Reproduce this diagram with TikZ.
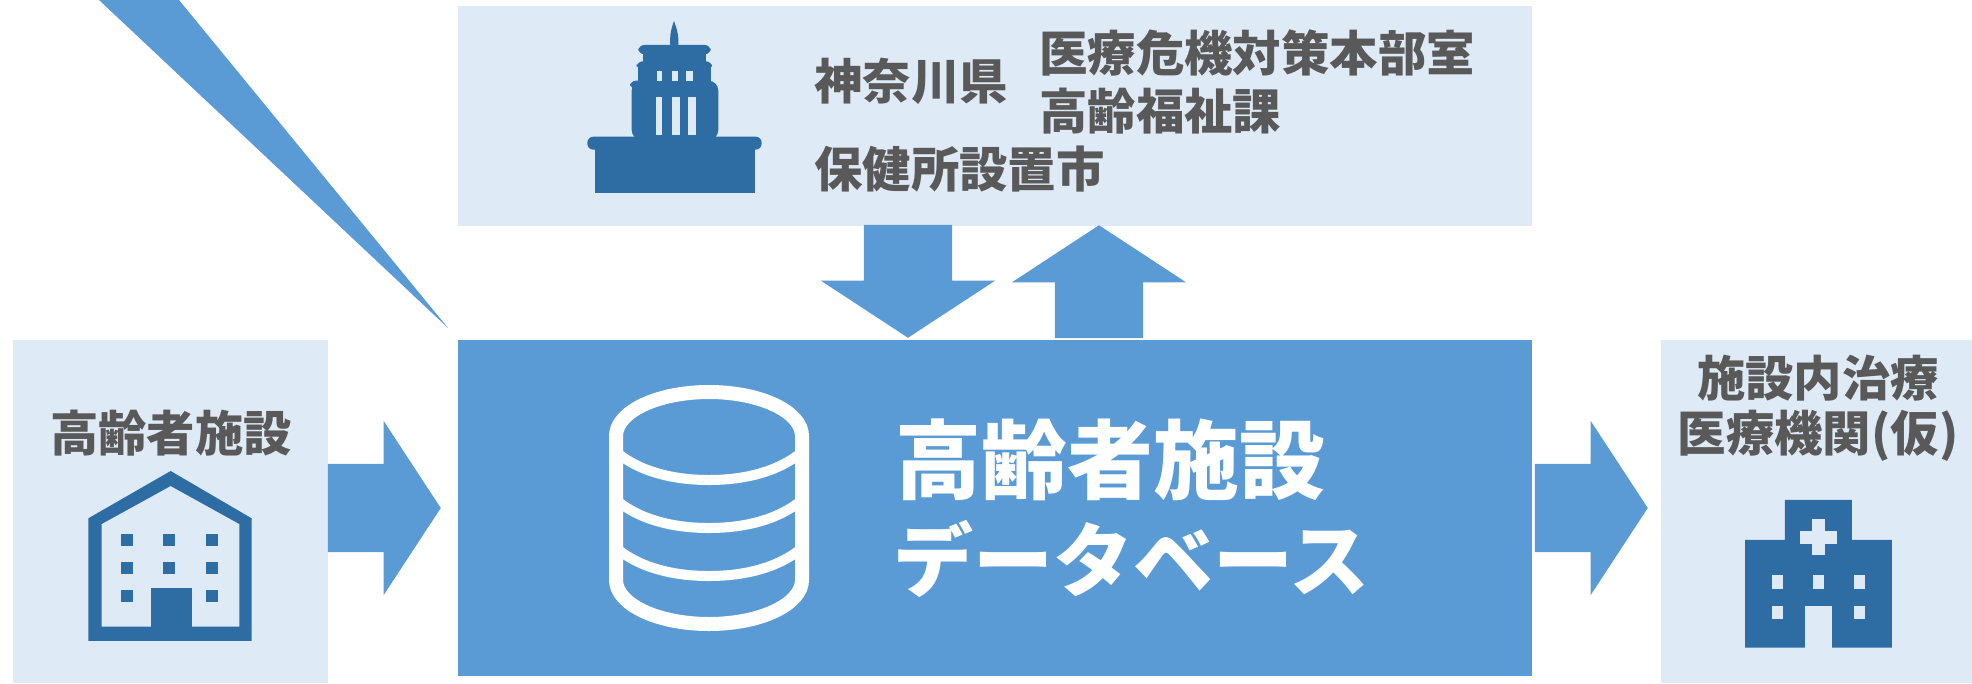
\documentclass[tikz,border=0pt]{standalone}
\usepackage{fontspec}
\setsansfont{Noto Sans CJK JP}
\usetikzlibrary{shapes.arrows}
\definecolor{paleblue}{HTML}{DEEAF6}
\definecolor{flowblue}{HTML}{5B9BD5}
\definecolor{iconblue}{HTML}{2E6DA4}
\definecolor{labelgray}{HTML}{595959}
\begin{document}
\begin{tikzpicture}[
        x=1pt, y=-1pt,
        font=\sffamily\bfseries,
        panel/.style 2 args = {
            rectangle, inner sep=0pt, outer sep=0pt,
            minimum width=#1 pt, minimum height=#2 pt
        },
        label/.style = {
            text=labelgray, inner sep=0pt,
            font=\sffamily\bfseries\fontsize{48.4}{50}\selectfont
        },
        title/.style = {
            text=white, inner sep=0pt, anchor=west,
            font=\sffamily\bfseries\fontsize{#1}{#1}\selectfont
        },
        flow/.style = {
            single arrow, fill=flowblue, inner xsep=0pt, inner ysep=44pt, anchor=tip,
            minimum width=174pt, minimum height=113pt,
            single arrow head extend=43pt,
            single arrow tip angle=113.5,
            single arrow head indent=0pt
        }
    ]
        \useasboundingbox (0,0) rectangle (1972,683);

        \node[panel={1074}{220}, fill=paleblue] (office) at (995,116){};
        \node[panel={1074}{336}, fill=flowblue] (database) at (995,508){};
        \node[panel={315}{343}, fill=paleblue] (facility) at (170.5,511.5){};
        \node[panel={311}{343}, fill=paleblue] (clinic) at (1816.5,511.5){};

        \fill[flowblue] (99,0) -- (179,0) -- (448,328) -- cycle;

        \node[flow] (feedin) at (441,508){};
        \node[flow] (feedout) at (1648,508){};
        \node[flow, rotate=-90] (report) at (908,338){};
        \node[flow, rotate=90] (notify) at (1099,225){};

        \node[label, anchor=west] (pref) at (814,81){神奈川県};
        \node[label, anchor=west] (crisis) at (1039,53){医療危機対策本部室};
        \node[label, anchor=west] (welfare) at (1039,111){高齢福祉課};
        \node[label, anchor=west] (city) at (814,169){保健所設置市};
        \node[label] (facilityname) at (171,433){高齢者施設};
        \node[label] (clinicline1) at (1818,378){施設内治療};
        \node[label] (clinicline2) at (1818,436){医療機関(仮)};
        \node[title=86] (dbline1) at (895,460){高齢者施設};
        \node[title=80] (dbline2) at (893,559){データベース};

        \begin{scope}[shift={(560,0)}, x=0.3333pt, y=-0.3333pt]
            \fill[iconblue, rounded corners=6pt] (82,410) rectangle (605,449);
            \fill[iconblue] (105,440) rectangle (585,578);
            \fill[iconblue, rounded corners=10pt] (215,420) -- (215,242) -- (475,242) -- (475,420) -- cycle;
            \fill[iconblue, rounded corners=6pt] (210,242) rectangle (300,267);
            \fill[iconblue] (250,150) rectangle (437,250);
            \fill[iconblue] (235,200) rectangle (452,250);
            \fill[iconblue, rounded corners=6pt] (230,184) rectangle (456,210);
            \fill[iconblue, rounded corners=6pt] (235,135) rectangle (452,163);
            \fill[iconblue] (331,137) .. controls (329,110) and (332,90) .. (342,63) .. controls (352,90) and (357,110) .. (355,137) -- cycle;
            \foreach \wx/\wr in {292/307,336/355,379/398}
                \fill[paleblue] (\wx,212) rectangle (\wr,242);
            \foreach \wx/\wr in {288/307,336/360,384/408}
                \fill[paleblue] (\wx,290) rectangle (\wr,405);
        \end{scope}

        \begin{scope}[shift={(0,330)}, x=0.3333pt, y=-0.3333pt]
            \fill[iconblue, even odd rule] (265,933) -- (265,565) -- (512,423) -- (755,565) -- (755,933) -- cycle
                (305,890) -- (305,582) -- (512,468) -- (718,582) -- (718,890) -- cycle;
            \fill[iconblue] (452,775) rectangle (575,895);
            \foreach \wx in {362,490,617}
                \foreach \wy in {612,696}
                    \fill[iconblue] (\wx,\wy) rectangle ++(36,36);
            \foreach \wx in {362,617}
                \fill[iconblue] (\wx,780) rectangle ++(36,36);
        \end{scope}

        \begin{scope}[shift={(1520,330)}, x=0.3333pt, y=-0.3333pt]
            \fill[iconblue] (675,953) -- (675,630) -- (795,630) -- (795,510) -- (996,510) -- (996,630) -- (1116,630) -- (1116,953) -- cycle;
            \fill[paleblue] (875,568) rectangle (916,676);
            \fill[paleblue] (841,602) rectangle (950,642);
            \fill[paleblue] (855,828) rectangle (937,953);
            \foreach \wx in {755,878,1003}
                \fill[paleblue] (\wx,735) rectangle ++(33,42);
            \foreach \wx in {755,1003}
                \fill[paleblue] (\wx,828) rectangle ++(33,40);
        \end{scope}

        \draw[white, line width=14pt] (616,436) arc (180:360:93 and 44) -- (802,580) arc (0:180:93 and 44) -- cycle;
        \foreach \ay in {452,500,548}
            \draw[white, line width=10pt] (616,\ay) .. controls +(24,20) and +(-35,0) .. (709,\ay+28) .. controls +(35,0) and +(-24,20) .. (802,\ay);
    \end{tikzpicture}
\end{document}
